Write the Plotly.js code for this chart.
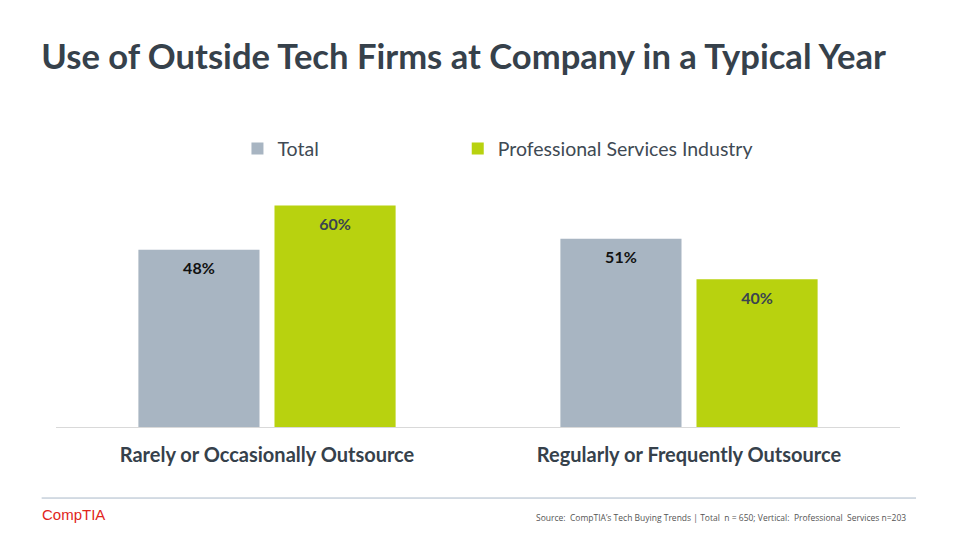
<!DOCTYPE html>
<html>
<head>
<meta charset="utf-8">
<script src="https://cdn.plot.ly/plotly-3.0.1.min.js"></script>
<style>html,body{margin:0;padding:0;background:#fff;}#chart{width:960px;height:540px;}</style>
</head>
<body>
<div id="chart"></div>
<script>
const categories = ["Rarely or Occasionally Outsource", "Regularly or Frequently Outsource"];
const seriesNames = ["Total", "Professional Services Industry"];
const totalValues = [48, 51];
const proServicesValues = [60, 40];
const seriesColors = ["#a8b5c2", "#b8d20f"];
const labelColors = ["#111111", "#3a4450"];

const FONT = "Lato, 'Open Sans', sans-serif";
const GAP = 0.355;
const seriesValues = [totalValues, proServicesValues];
const legendIds = ["legend", "legend2"];

const barTraces = seriesValues.map((vals, i) => ({
  type: "bar",
  name: seriesNames[i],
  legend: legendIds[i],
  x: categories,
  y: vals,
  offsetgroup: "g" + i,
  marker: { color: seriesColors[i], line: { width: 0 } },
  hoverinfo: "skip"
}));

const labelTraces = seriesValues.map((vals, i) => ({
  type: "scatter",
  mode: "markers+text",
  showlegend: false,
  x: categories,
  y: vals,
  offsetgroup: "g" + i,
  marker: { size: 18, color: "rgba(0,0,0,0)" },
  text: vals.map(v => v + "%"),
  textposition: "bottom center",
  textfont: { family: FONT, size: 16, color: labelColors[i], weight: "bold" },
  hoverinfo: "skip",
  cliponaxis: false
}));

const legendBase = {
  orientation: "h",
  xref: "paper", yref: "paper",
  xanchor: "left", yanchor: "middle", y: 1.108,
  font: { family: FONT, size: 19.5, color: "#404a54" },
  itemclick: false, itemdoubleclick: false
};

const layout = {
  width: 960, height: 540,
  paper_bgcolor: "#ffffff", plot_bgcolor: "#ffffff",
  margin: { l: 56, r: 60, t: 176, b: 113, pad: 0 },
  title: {
    text: "<b>Use of Outside Tech Firms at Company in a Typical Year</b>",
    font: { family: FONT, size: 34.6, color: "#36414b" },
    x: 0.043, xanchor: "left", xref: "container",
    y: 0.895, yanchor: "middle", yref: "container"
  },
  barmode: "group",
  bargap: GAP,
  bargroupgap: 0.11,
  scattermode: "group",
  scattergap: GAP,
  showlegend: true,
  legend: Object.assign({}, legendBase, { x: 0.215 }),
  legend2: Object.assign({}, legendBase, { x: 0.476 }),
  xaxis: {
    type: "category",
    showgrid: false, zeroline: false,
    showline: true, linecolor: "#d9d9d9", linewidth: 1,
    ticks: "", ticklabelstandoff: 10,
    tickfont: { family: FONT, size: 20, color: "#36414b", weight: "bold" },
    fixedrange: true
  },
  yaxis: {
    range: [0, 68],
    visible: false,
    showgrid: false, zeroline: false,
    fixedrange: true
  },
  shapes: [
    { type: "line", xref: "paper", yref: "paper", x0: -0.017, x1: 1.019, y0: -0.283, y1: -0.283,
      line: { color: "#a9b8c8", width: 1 } }
  ],
  annotations: [
    { text: "CompTIA", xref: "paper", yref: "paper", x: -0.019, y: -0.35, xanchor: "left", yanchor: "middle",
      showarrow: false, font: { family: "'Liberation Sans Narrow', 'Liberation Sans', Arial, sans-serif", size: 15, color: "#e1251b" } },
    { text: "Source:  CompTIA\u2019s Tech Buying Trends | Total  n = 650; Vertical:  Professional  Services n=203",
      xref: "paper", yref: "paper", x: 1.01, y: -0.36, xanchor: "right", yanchor: "middle",
      showarrow: false, font: { family: "'Open Sans', sans-serif", size: 8.5, color: "#555555" } }
  ]
};

Plotly.newPlot("chart", barTraces.concat(labelTraces), layout, { displayModeBar: false, staticPlot: true });
</script>
</body>
</html>
